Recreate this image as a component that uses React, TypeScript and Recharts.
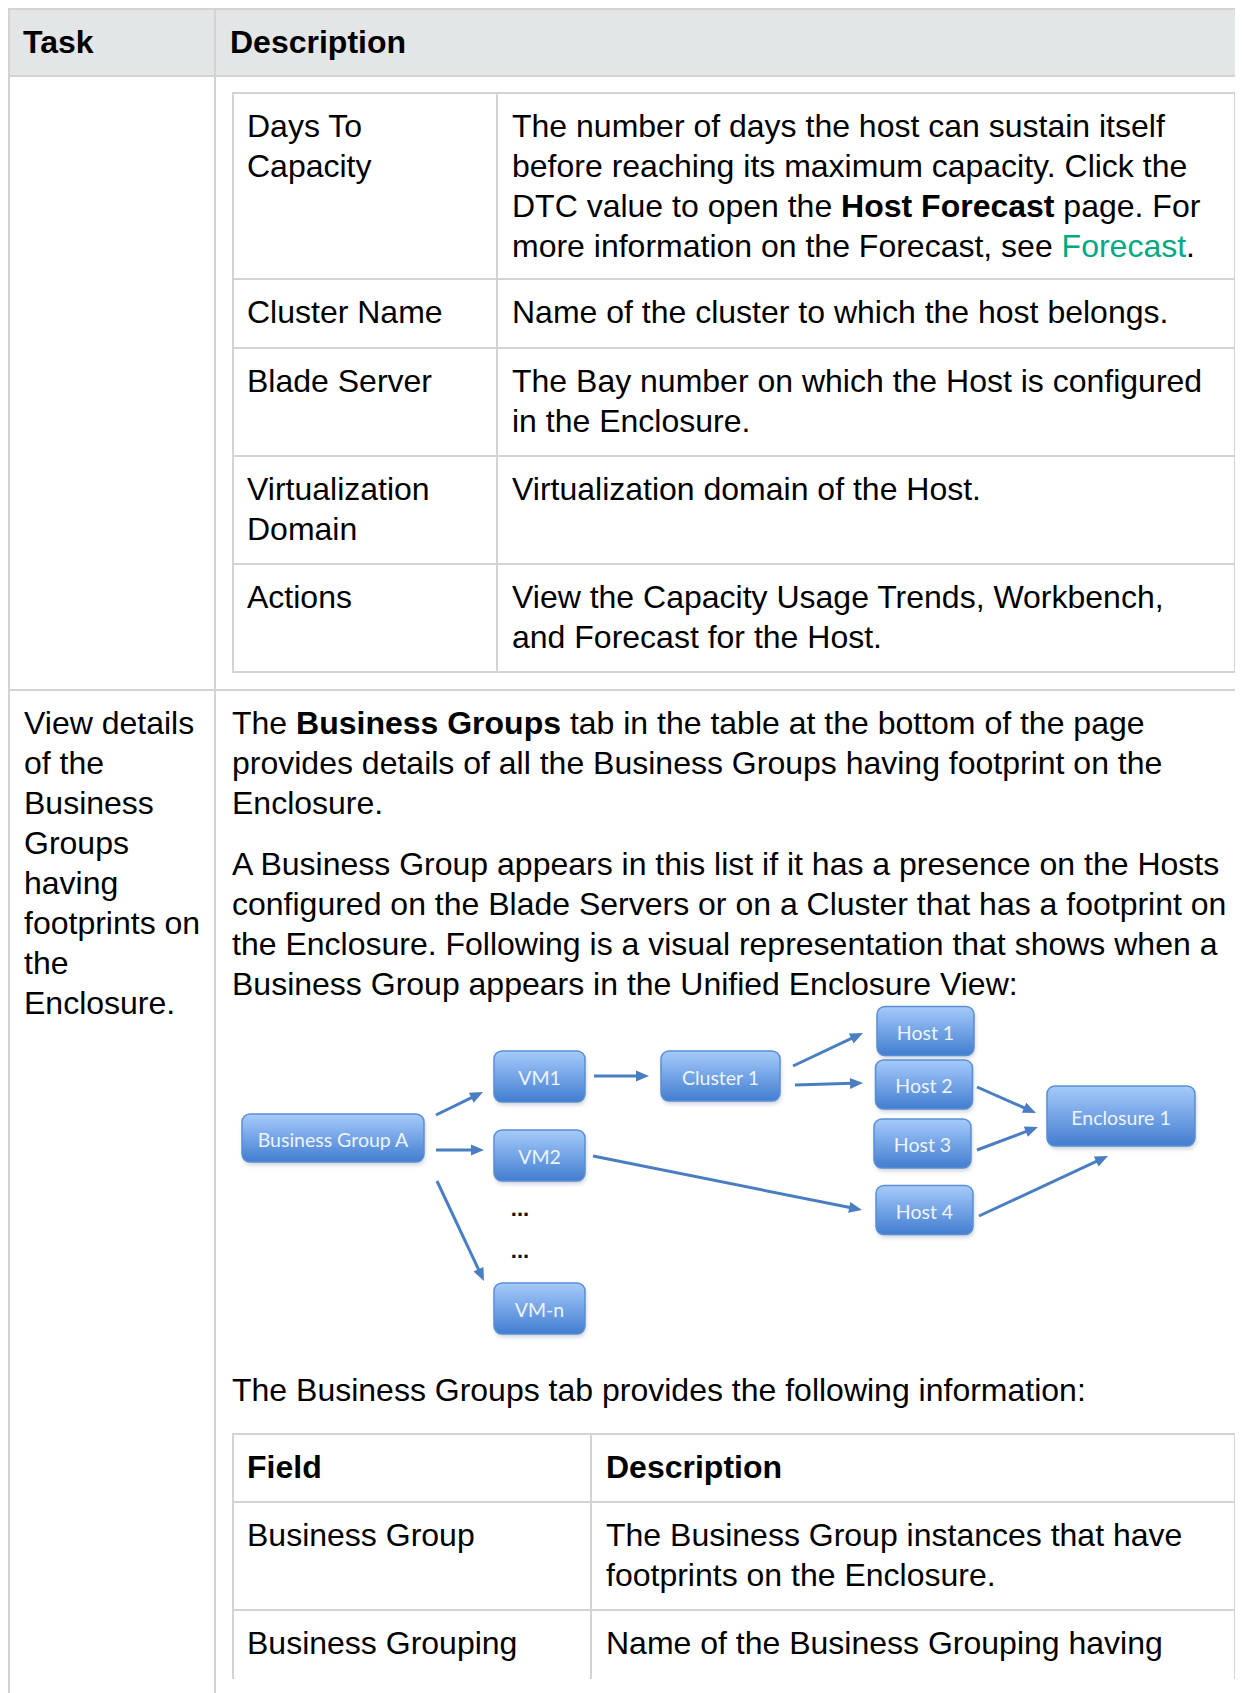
import React from 'react';
import { ScatterChart, Scatter, XAxis, YAxis, ReferenceLine } from 'recharts';

// ---- diagram data (chart coordinates, y grows downward) ----
const nodeLabels = ['Business Group A', 'VM1', 'VM2', 'VM-n', 'Cluster 1', 'Host 1', 'Host 2', 'Host 3', 'Host 4', 'Enclosure 1'];
const nodeKinds = ['group', 'vm', 'vm', 'vm', 'cluster', 'host', 'host', 'host', 'host', 'enclosure'];
const nodeX = [101, 307.5, 307.5, 307.5, 488.5, 693.5, 692, 690.5, 692.5, 889];
const nodeY = [134, 72.5, 151.5, 304.5, 72, 27, 80.5, 139.5, 206, 112];

const ellipsisX = [288, 288];
const ellipsisY = [209, 251];

const arrowFrom = [[204, 111], [204, 146], [205, 177], [362, 72], [361, 152], [561, 62], [563, 81], [745, 83], [745, 146], [747, 212]];
const arrowTo = [[251, 88], [252, 146], [252, 277], [417, 72], [630, 206], [631, 29], [631, 79], [804, 109], [806, 123], [876, 152]];

// ---- table text ----
const headerCells = ['Task', 'Description'];

const hostFieldNames = [['Days To', 'Capacity'], ['Cluster Name'], ['Blade Server'], ['Virtualization', 'Domain'], ['Actions']];
const hostFieldDescs = [
  [
    'The number of days the host can sustain itself',
    'before reaching its maximum capacity. Click the',
    'DTC value to open the **Host Forecast** page. For',
    'more information on the Forecast, see [[Forecast]].',
  ],
  ['Name of the cluster to which the host belongs.'],
  ['The Bay number on which the Host is configured', 'in the Enclosure.'],
  ['Virtualization domain of the Host.'],
  ['View the Capacity Usage Trends, Workbench,', 'and Forecast for the Host.'],
];

const taskLines = ['View details', 'of the', 'Business', 'Groups', 'having', 'footprints on', 'the', 'Enclosure.'];
const introLines = [
  'The **Business Groups** tab in the table at the bottom of the page',
  'provides details of all the Business Groups having footprint on the',
  'Enclosure.',
];
const presenceLines = [
  'A Business Group appears in this list if it has a presence on the Hosts',
  'configured on the Blade Servers or on a Cluster that has a footprint on',
  'the Enclosure. Following is a visual representation that shows when a',
  'Business Group appears in the Unified Enclosure View:',
];
const tabLines = ['The Business Groups tab provides the following information:'];

const bgFieldNames = [['**Field**'], ['Business Group'], ['Business Grouping']];
const bgFieldDescs = [
  ['**Description**'],
  ['The Business Group instances that have', 'footprints on the Enclosure.'],
  ['Name of the Business Grouping having'],
];

const FONT = '"Liberation Sans", Arial, Helvetica, sans-serif';
const RULE = '#d2d4d4';
const HEAD_BG = '#e3e6e6';
const LINK = '#01a982';

const BOX: Record<string, { w: number; h: number }> = {
  group: { w: 182, h: 48 },
  vm: { w: 91, h: 51 },
  cluster: { w: 119, h: 50 },
  host: { w: 97, h: 49 },
  enclosure: { w: 148, h: 60 },
};

const nodes = nodeLabels.map((label, i) => ({ label, kind: nodeKinds[i], x: nodeX[i], y: nodeY[i] }));
const dots = ellipsisX.map((x, i) => ({ x, y: ellipsisY[i] }));

function Rich({ text }: { text: string }) {
  const parts = text.split(/(\*\*[^*]+\*\*|\[\[[^\]]+\]\])/g).filter(Boolean);
  return (
    <>
      {parts.map((p, i) => {
        if (p.startsWith('**')) return <b key={i}>{p.slice(2, -2)}</b>;
        if (p.startsWith('[[')) return <span key={i} style={{ color: LINK }}>{p.slice(2, -2)}</span>;
        return <span key={i}>{p}</span>;
      })}
    </>
  );
}

function Lines({ lines }: { lines: string[] }) {
  return (
    <div>
      {lines.map((l, i) => (
        <div key={i} style={{ height: 40, whiteSpace: 'nowrap' }}>
          <Rich text={l} />
        </div>
      ))}
    </div>
  );
}

function Grid({ names, descs, colW, heights }: { names: string[][]; descs: string[][]; colW: number[]; heights: number[] }) {
  return (
    <div style={{ width: colW[0] + colW[1], borderLeft: `2px solid ${RULE}`, borderTop: `2px solid ${RULE}` }}>
      {names.map((n, i) => (
        <div key={i} style={{ display: 'flex', height: heights[i], boxSizing: 'border-box', borderBottom: `2px solid ${RULE}` }}>
          <div style={{ width: colW[0], boxSizing: 'border-box', borderRight: `2px solid ${RULE}`, padding: '12px 0 0 13px' }}>
            <Lines lines={n} />
          </div>
          <div style={{ width: colW[1], boxSizing: 'border-box', borderRight: `2px solid ${RULE}`, padding: '12px 0 0 14px' }}>
            <Lines lines={descs[i]} />
          </div>
        </div>
      ))}
    </div>
  );
}

function NodeBox(props: any) {
  const { cx, cy, payload } = props;
  const { w, h } = BOX[payload.kind];
  const x = cx - w / 2;
  const y = cy - h / 2;
  return (
    <g>
      <rect x={x + 1} y={y + 3} width={w} height={h} rx={8} fill="#6f7f96" opacity={0.35} filter="url(#boxShadow)" />
      <rect x={x} y={y} width={w} height={h} rx={8} fill="url(#boxFill)" stroke="#5a8ed4" strokeWidth={1.5} />
      <text x={cx} y={cy + 1} textAnchor="middle" dominantBaseline="central" fill="#eef4fc" fontFamily="Lato, 'Open Sans', sans-serif" fontSize={19.5}>
        {payload.label}
      </text>
    </g>
  );
}

function Ellipsis(props: any) {
  const { cx, cy } = props;
  return (
    <text x={cx} y={cy + 3} textAnchor="middle" fill="#111" fontFamily={FONT} fontWeight="bold" fontSize={22}>
      ...
    </text>
  );
}

function Arrow(props: any) {
  const { x1, y1, x2, y2 } = props;
  const dx = x2 - x1;
  const dy = y2 - y1;
  const len = Math.sqrt(dx * dx + dy * dy) || 1;
  const ux = dx / len;
  const uy = dy / len;
  const head = 13;
  const half = 5.5;
  const bx = x2 - ux * head;
  const by = y2 - uy * head;
  return (
    <g>
      <line x1={x1} y1={y1} x2={bx + ux * 2} y2={by + uy * 2} stroke="#4a7ec2" strokeWidth={3} />
      <polygon
        points={`${x2},${y2} ${bx - uy * half},${by + ux * half} ${bx + uy * half},${by - ux * half}`}
        fill="#4a7ec2"
      />
    </g>
  );
}

function Diagram() {
  return (
    <ScatterChart width={1004} height={346} margin={{ top: 0, right: 0, bottom: 0, left: 0 }}>
      <defs>
        <linearGradient id="boxFill" x1="0" y1="0" x2="0" y2="1">
          <stop offset="0%" stopColor="#a6cbfa" />
          <stop offset="50%" stopColor="#74a4e6" />
          <stop offset="100%" stopColor="#427dcf" />
        </linearGradient>
        <filter id="boxShadow" x="-20%" y="-20%" width="140%" height="150%">
          <feGaussianBlur stdDeviation="2" />
        </filter>
      </defs>
      <XAxis type="number" dataKey="x" domain={[0, 1004]} hide />
      <YAxis type="number" dataKey="y" domain={[0, 346]} reversed hide />
      {arrowFrom.map((f, i) => (
        <ReferenceLine
          key={i}
          segment={[{ x: f[0], y: f[1] }, { x: arrowTo[i][0], y: arrowTo[i][1] }]}
          shape={(p: any) => <Arrow {...p} />}
        />
      ))}
      <Scatter data={nodes} shape={(p: any) => <NodeBox {...p} />} isAnimationActive={false} />
      <Scatter data={dots} shape={(p: any) => <Ellipsis {...p} />} isAnimationActive={false} />
    </ScatterChart>
  );
}

export default function App() {
  const cellBorder = { borderRight: `2px solid ${RULE}`, borderBottom: `2px solid ${RULE}`, boxSizing: 'border-box' as const };
  return (
    <div
      style={{
        position: 'relative',
        width: 1235,
        height: 1685,
        overflow: 'hidden',
        fontFamily: FONT,
        fontSize: 32,
        lineHeight: '40px',
        color: '#000',
        background: '#fff',
      }}
    >
      <div style={{ width: 1300, borderLeft: `2px solid ${RULE}`, borderTop: `2px solid ${RULE}` }}>
        <div style={{ display: 'flex', height: 67 }}>
          <div style={{ ...cellBorder, width: 206, background: HEAD_BG, padding: '12px 0 0 13px', fontWeight: 'bold' }}>
            {headerCells[0]}
          </div>
          <div style={{ ...cellBorder, width: 1092, background: HEAD_BG, padding: '12px 0 0 14px', fontWeight: 'bold' }}>
            {headerCells[1]}
          </div>
        </div>

        <div style={{ display: 'flex', height: 614 }}>
          <div style={{ ...cellBorder, width: 206 }} />
          <div style={{ ...cellBorder, width: 1092, padding: '15px 0 0 16px' }}>
            <Grid names={hostFieldNames} descs={hostFieldDescs} colW={[264, 738]} heights={[186, 69, 108, 108, 108]} />
          </div>
        </div>

        <div style={{ display: 'flex', height: 1100 }}>
          <div style={{ ...cellBorder, width: 206, padding: '12px 0 0 14px' }}>
            <Lines lines={taskLines} />
          </div>
          <div style={{ ...cellBorder, width: 1092, padding: '12px 0 0 16px' }}>
            <Lines lines={introLines} />
            <div style={{ height: 21 }} />
            <Lines lines={presenceLines} />
            <div style={{ width: 1004, height: 346 }}>
              <Diagram />
            </div>
            <div style={{ height: 20 }} />
            <Lines lines={tabLines} />
            <div style={{ height: 23 }} />
            <div style={{ height: 246, overflow: 'hidden' }}>
              <Grid names={bgFieldNames} descs={bgFieldDescs} colW={[358, 644]} heights={[68, 108, 200]} />
            </div>
          </div>
        </div>
      </div>
    </div>
  );
}
